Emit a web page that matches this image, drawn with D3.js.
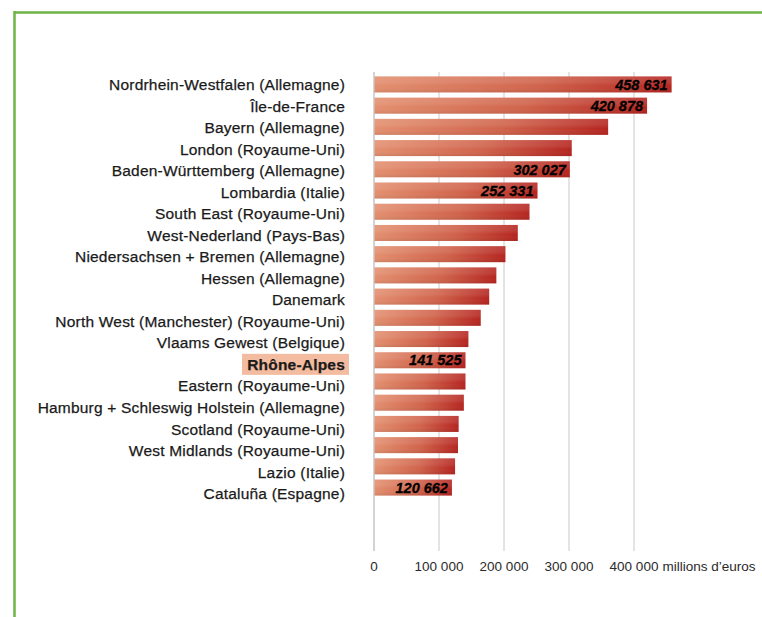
<!DOCTYPE html>
<html><head><meta charset="utf-8">
<script src="https://cdn.jsdelivr.net/npm/d3@7/dist/d3.min.js"></script>
<style>body{margin:0;background:#fff}svg{display:block}</style>
</head><body>
<script>
const categories = [
  "Nordrhein-Westfalen (Allemagne)","Île-de-France","Bayern (Allemagne)","London (Royaume-Uni)",
  "Baden-Württemberg (Allemagne)","Lombardia (Italie)","South East (Royaume-Uni)","West-Nederland (Pays-Bas)",
  "Niedersachsen + Bremen (Allemagne)","Hessen (Allemagne)","Danemark","North West (Manchester) (Royaume-Uni)",
  "Vlaams Gewest (Belgique)","Rhône-Alpes","Eastern (Royaume-Uni)","Hamburg + Schleswig Holstein (Allemagne)",
  "Scotland (Royaume-Uni)","West Midlands (Royaume-Uni)","Lazio (Italie)","Cataluña (Espagne)"
];
const values = [458631,420878,361000,305000,302027,252331,240000,222000,203000,189000,178000,165000,146000,141525,141500,139000,131000,130000,125500,120662];
const valueShown = [true,true,false,false,true,true,false,false,false,false,false,false,false,true,false,false,false,false,false,true];
const highlight = "Rhône-Alpes";
const tickValues = [0,100000,200000,300000,400000];
const unitLabel = "millions d’euros";

const W = 762, H = 617;
const FONT = "Liberation Sans, Arial, sans-serif";
const svg = d3.select("body").append("svg").attr("width", W).attr("height", H);

// green frame
svg.append("line").attr("x1",14).attr("x2",W).attr("y1",12.5).attr("y2",12.5).attr("stroke","#6db544").attr("stroke-width",2.5);
svg.append("line").attr("x1",14.5).attr("x2",14.5).attr("y1",11).attr("y2",H).attr("stroke","#6db544").attr("stroke-width",2.5);

const defs = svg.append("defs");
const g1 = defs.append("linearGradient").attr("id","barGrad").attr("x1","0").attr("x2","1").attr("y1","0").attr("y2","0");
g1.append("stop").attr("offset","0%").attr("stop-color","#e38f6f");
g1.append("stop").attr("offset","55%").attr("stop-color","#d0634b");
g1.append("stop").attr("offset","100%").attr("stop-color","#b52520");
const g2 = defs.append("linearGradient").attr("id","shade").attr("x1","0").attr("x2","0").attr("y1","0").attr("y2","1");
g2.append("stop").attr("offset","0%").attr("stop-color","#fff").attr("stop-opacity",0.12);
g2.append("stop").attr("offset","35%").attr("stop-color","#fff").attr("stop-opacity",0.1);
g2.append("stop").attr("offset","60%").attr("stop-color","#fff").attr("stop-opacity",0);
g2.append("stop").attr("offset","100%").attr("stop-color","#000").attr("stop-opacity",0.08);

const x = d3.scaleLinear().domain([0,400000]).range([373.5,633.5]);
const y = d3.scaleBand().domain(categories).range([74.3,497.7]).paddingInner(0.245).paddingOuter(0.1);
const yl = d3.scalePoint().domain(categories).range([84.5,493.5]);

const gridTop = 72, gridBottom = 551;
svg.append("g").selectAll("line").data(tickValues).join("line")
  .attr("x1",d=>x(d)+0.5).attr("x2",d=>x(d)+0.5).attr("y1",gridTop).attr("y2",gridBottom)
  .attr("stroke",d=>d===0?"#a8a8a8":"#c8c8c8").attr("stroke-width",1);

const bars = svg.append("g");
bars.selectAll("rect.b").data(categories).join("rect").attr("class","b")
  .attr("x",x(0)+1).attr("y",d=>y(d)).attr("height",y.bandwidth())
  .attr("width",(d,i)=>x(values[i])-x(0)-1).attr("fill","url(#barGrad)");
bars.selectAll("rect.s").data(categories).join("rect").attr("class","s")
  .attr("x",x(0)+1).attr("y",d=>y(d)).attr("height",y.bandwidth())
  .attr("width",(d,i)=>x(values[i])-x(0)-1).attr("fill","url(#shade)");

const fmt = v => d3.format(",")(v).replace(/,/g," ");
svg.append("g").selectAll("text").data(categories.filter((d,i)=>valueShown[i])).join("text")
  .attr("x",d=>x(values[categories.indexOf(d)])-4)
  .attr("y",d=>y(d)+y.bandwidth()/2).attr("dy","0.36em")
  .attr("text-anchor","end")
  .attr("font-family",FONT).attr("font-size",14.5)
  .attr("font-weight","bold").attr("font-style","italic").attr("fill","#000")
  .attr("stroke","#000").attr("stroke-width",0.3)
  .text(d=>fmt(values[categories.indexOf(d)]));

// category labels
const lab = svg.append("g");
lab.append("rect").attr("x",242).attr("y",yl(highlight)-10.5).attr("width",107).attr("height",21).attr("fill","#f3bb9f");
lab.selectAll("text").data(categories).join("text")
  .attr("x",345).attr("y",d=>yl(d)).attr("dy","0.36em").attr("text-anchor","end")
  .attr("font-family",FONT).attr("font-size",15.5).attr("letter-spacing",0.2)
  .attr("font-weight",d=>d===highlight?"bold":"normal").attr("fill","#1a1a1a")
  .attr("stroke","#1a1a1a").attr("stroke-width",0.25)
  .text(d=>d);

// x axis
const axis = d3.axisBottom(x).tickValues(tickValues).tickSize(0).tickPadding(0).tickFormat(fmt);
const ax = svg.append("g").attr("transform",`translate(0,${561})`).call(axis);
ax.select(".domain").remove();
ax.selectAll("text").attr("font-family",FONT).attr("font-size",13.5).attr("fill","#2a2a2a");
svg.append("text").attr("x",x(400000)+29).attr("y",561).attr("dy","0.71em")
  .attr("font-family",FONT).attr("font-size",13.5).attr("fill","#2a2a2a")
  .text(unitLabel);
</script>
</body></html>
